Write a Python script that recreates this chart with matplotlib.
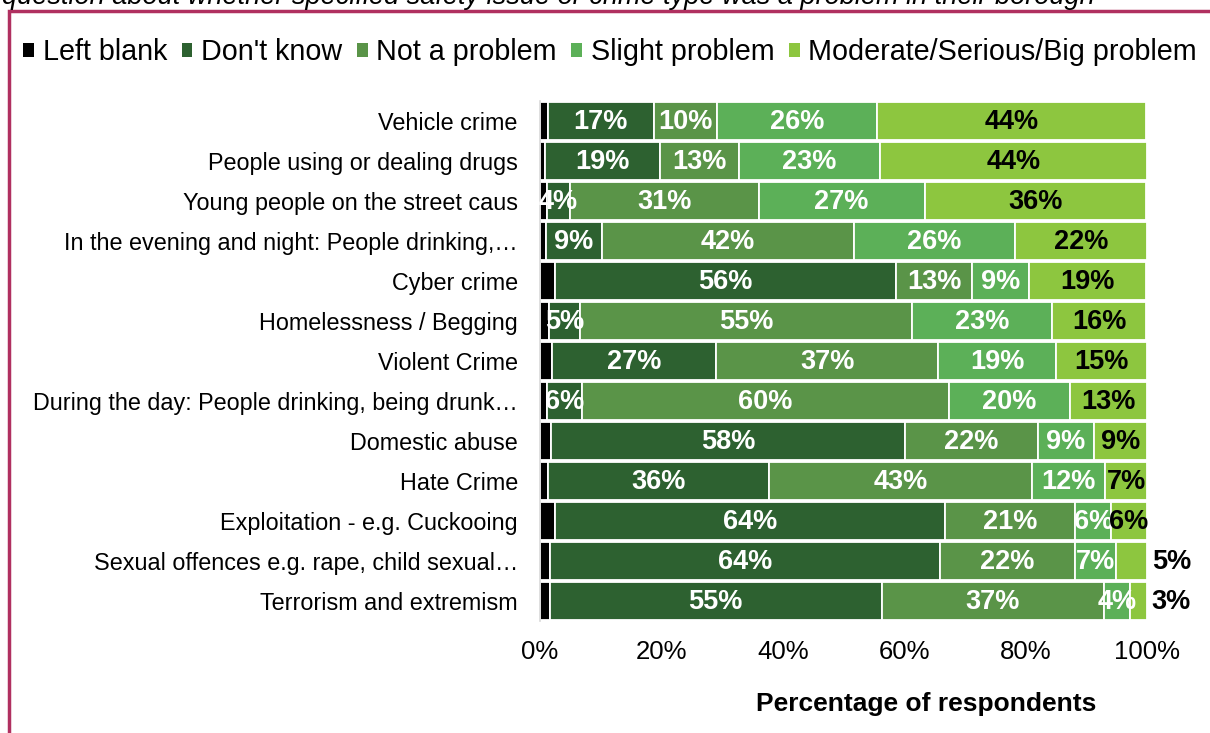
import matplotlib.pyplot as plt
from matplotlib.patches import Patch, Rectangle

plt.rcParams['font.family'] = ['Liberation Sans', 'DejaVu Sans']

categories = [
    "Vehicle crime",
    "People using or dealing drugs",
    "Young people on the street caus",
    "In the evening and night: People drinking,\u2026",
    "Cyber crime",
    "Homelessness / Begging",
    "Violent Crime",
    "During the day: People drinking, being drunk\u2026",
    "Domestic abuse",
    "Hate Crime",
    "Exploitation - e.g. Cuckooing",
    "Sexual offences e.g. rape, child sexual\u2026",
    "Terrorism and extremism",
]
series = ["Left blank", "Don't know", "Not a problem", "Slight problem",
          "Moderate/Serious/Big problem"]

left_blank = [1.3, 0.8, 1.1, 1.0, 2.4, 1.5, 2.0, 1.1, 1.8, 1.3, 2.5, 1.6, 1.6]
dont_know = [17.4, 18.9, 3.8, 9.2, 56.2, 5.1, 27.0, 5.8, 58.4, 36.4, 64.3, 64.3, 54.7]
not_problem = [10.4, 13.1, 31.1, 41.6, 12.6, 54.7, 36.6, 60.4, 21.8, 43.3, 21.4, 22.2, 36.6]
slight = [26.4, 23.2, 27.4, 26.4, 9.4, 23.0, 19.4, 20.0, 9.2, 12.1, 5.9, 6.8, 4.3]
moderate = [44.4, 44.0, 36.4, 21.8, 19.2, 15.6, 15.0, 12.7, 8.8, 6.9, 5.9, 5.1, 2.8]

colors = ["#000000", "#2d6130", "#5a9448", "#5cb058", "#8dc63f"]
label_colors = [None, "white", "white", "white", "black"]

W, H = 1210, 733
fig = plt.figure(figsize=(W / 100, H / 100), dpi=100)
ax = fig.add_axes([540 / W, 1 - 621 / H, 607 / W, 520 / H])

ypos = list(range(len(categories)))
starts = [0.0] * len(categories)
for k, vals in enumerate([left_blank, dont_know, not_problem, slight, moderate]):
    ax.barh(ypos, vals, left=starts, height=0.93, color=colors[k],
            edgecolor="white", linewidth=1.3, label=series[k])
    if label_colors[k] is not None:
        for i, v in enumerate(vals):
            x = starts[i] + v / 2
            if k == 4 and v < 5.5:
                x = 104  # small values labelled outside the bar
            ax.text(x, i + 0.02, f"{v:.0f}%", ha="center", va="center",
                    color=label_colors[k], fontsize=19.5, fontweight="bold")
    starts = [s + v for s, v in zip(starts, vals)]

ax.set_xlim(0, 100)
ax.set_ylim(len(categories) - 0.5, -0.5)
ax.set_yticks(ypos)
ax.set_yticklabels(categories, fontsize=16.8)
ax.set_xticks(range(0, 101, 20))
ax.set_xticklabels([f"{t}%" for t in range(0, 101, 20)], fontsize=18.5)
ax.tick_params(axis="both", length=0)
ax.tick_params(axis="y", pad=16)
ax.tick_params(axis="x", pad=14)
for s in ["top", "right", "bottom"]:
    ax.spines[s].set_visible(False)
ax.spines["left"].set_color("#d9d9d9")
ax.spines["left"].set_linewidth(1.2)

ax.set_xlabel("Percentage of respondents", fontsize=19, fontweight="bold")
ax.xaxis.set_label_coords((926 - 540) / 607, (621 - 692) / 520)

handles = [Patch(facecolor=c, edgecolor="none") for c in colors]
fig.legend(handles, series, loc="center", ncol=5, frameon=False,
           bbox_to_anchor=(610 / W, 1 - 52 / H), fontsize=20.7,
           handlelength=0.38, handleheight=0.38, handletextpad=0.3,
           columnspacing=0.5, borderaxespad=0)

fig.text(2 / W, 1 - 4 / H,
         "question about whether specified safety issue or crime type was a problem in their borough",
         fontsize=19.5, style="italic", va="baseline", ha="left")

fig.patches.append(Rectangle((9 / W, -0.1), 1.2, 1.1 - 11 / H, transform=fig.transFigure,
                             fill=False, edgecolor="#b03060", linewidth=2.5))

fig.savefig("out.png", dpi=100)
